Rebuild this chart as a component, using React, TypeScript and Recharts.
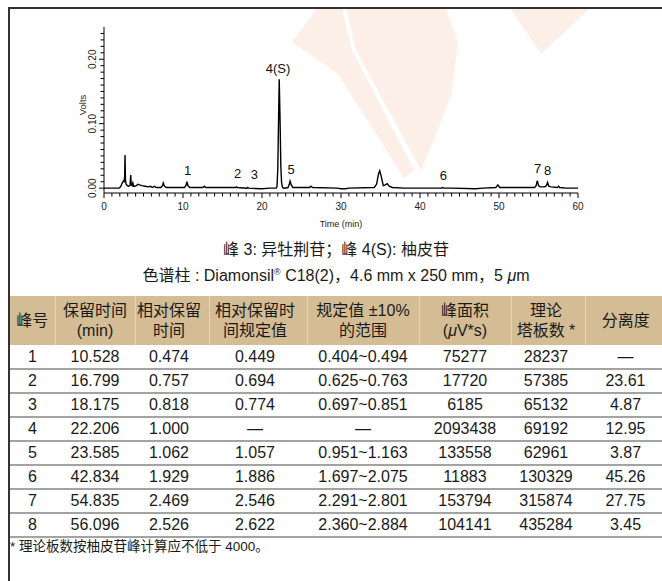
import { ComposedChart, Line, Scatter, XAxis, YAxis } from 'recharts'

// chromatogram trace: [time (min), volts]
const TRACE: [number, number][] = [
  [0, 0.0], [1.9, 0.0], [2.1, 0.002], [2.3, 0.008], [2.45, 0.011], [2.55, 0.01],
  [2.62, 0.02], [2.66, 0.0515], [2.72, 0.012], [2.8, 0.006], [2.95, 0.004], [3.1, 0.003],
  [3.3, 0.004], [3.38, 0.0205], [3.45, 0.006], [3.55, 0.004], [3.65, 0.008], [3.75, 0.003],
  [3.9, 0.003], [4.1, 0.004], [4.3, 0.006], [4.5, 0.005], [4.8, 0.004], [5.2, 0.003],
  [5.6, 0.002], [5.9, 0.003], [6.1, 0.001], [6.4, 0.003], [6.6, 0.001], [7.2, 0.001],
  [7.4, 0.004], [7.5, 0.008], [7.65, 0.003], [7.9, 0.001], [10.2, 0.001], [10.4, 0.005],
  [10.5, 0.01], [10.62, 0.004], [10.85, 0.001], [12.5, 0.001], [12.7, 0.003], [12.85, 0.001],
  [15.2, 0.001], [16.7, 0.001], [16.8, 0.002], [16.9, 0.001], [18.1, 0.0], [18.2, 0.001],
  [18.3, 0.0], [20.0, -0.001], [21.0, 0.0], [21.8, 0.0], [21.9, 0.003], [22.0, 0.03],
  [22.1, 0.11], [22.18, 0.169], [22.28, 0.11], [22.38, 0.035], [22.48, 0.008], [22.6, 0.001],
  [22.8, 0.0], [23.3, 0.001], [23.45, 0.006], [23.55, 0.011], [23.7, 0.005], [23.9, 0.001],
  [26.0, 0.001], [26.2, 0.003], [26.4, 0.001], [29.5, 0.0], [30.0, -0.001], [30.6, -0.001],
  [31.0, 0.0], [34.2, 0.001], [34.5, 0.006], [34.75, 0.022], [34.9, 0.027], [35.1, 0.018],
  [35.35, 0.004], [35.6, 0.005], [35.85, 0.007], [36.1, 0.003], [36.5, 0.001], [38.0, 0.0],
  [42.7, 0.0], [42.85, 0.001], [43.0, 0.0], [44.0, 0.0], [47.0, -0.001], [48.0, 0.0],
  [49.6, 0.001], [49.85, 0.005], [50.1, 0.001], [52.0, 0.001], [54.5, 0.001], [54.7, 0.004],
  [54.85, 0.0116], [55.0, 0.004], [55.2, 0.002], [55.8, 0.002], [56.0, 0.004], [56.15, 0.009],
  [56.3, 0.003], [56.6, 0.002], [57.4, 0.001], [57.55, 0.003], [57.7, 0.001], [58.5, 0.0],
  [60, 0.0],
]

// peak numbers, placed where they sit in the picture
const PEAK_LABELS = [
  { t: 22.03, v: 0.185, text: '4(S)' },
  { t: 10.58, v: 0.0267, text: '1' },
  { t: 16.9, v: 0.022, text: '2' },
  { t: 19.03, v: 0.0205, text: '3' },
  { t: 23.67, v: 0.0282, text: '5' },
  { t: 42.95, v: 0.019, text: '6' },
  { t: 54.9, v: 0.0298, text: '7' },
  { t: 56.16, v: 0.0267, text: '8' },
]

const X_TICKS = Array.from({ length: 61 }, (_, i) => i)
const Y_TICKS = Array.from({ length: 25 }, (_, i) => i / 100)

const HEADERS: React.ReactNode[][] = [
  ['峰号'],
  ['保留时间', '(min)'],
  ['相对保留', '时间'],
  ['相对保留时', '间规定值'],
  ['规定值 ±10%', '的范围'],
  ['峰面积', <>(<i>μ</i>V*s)</>],
  ['理论', '塔板数 *'],
  ['分离度'],
]

const ROWS = [
  ['1', '10.528', '0.474', '0.449', '0.404~0.494', '75277', '28237', '—'],
  ['2', '16.799', '0.757', '0.694', '0.625~0.763', '17720', '57385', '23.61'],
  ['3', '18.175', '0.818', '0.774', '0.697~0.851', '6185', '65132', '4.87'],
  ['4', '22.206', '1.000', '—', '—', '2093438', '69192', '12.95'],
  ['5', '23.585', '1.062', '1.057', '0.951~1.163', '133558', '62961', '3.87'],
  ['6', '42.834', '1.929', '1.886', '1.697~2.075', '11883', '130329', '45.26'],
  ['7', '54.835', '2.469', '2.546', '2.291~2.801', '153794', '315874', '27.75'],
  ['8', '56.096', '2.526', '2.622', '2.360~2.884', '104141', '435284', '3.45'],
]

const COL_WIDTHS = [45, 80, 74, 98, 112, 92, 74, 77]
const COL_PAD: [number, number][] = [[0, 0], [0, 0], [0, 6], [0, 6], [0, 0], [0, 0], [0, 4], [4, 0]]

const FONT = '"Liberation Sans", Arial, "Noto Sans CJK SC", sans-serif'
const WATERMARK = '#fcefe7'

const XTick = (props: any) => {
  const { x, y, payload } = props
  const major = payload.value % 10 === 0
  return (
    <g>
      <line x1={x} x2={x} y1={y} y2={y + (major ? 5 : 3.5)} stroke="#000" strokeWidth={1} />
      {major && (
        <text x={x} y={y + 17} textAnchor="middle" fontSize={10} fill="#222" fontFamily={FONT}>
          {payload.value}
        </text>
      )}
    </g>
  )
}

const YTick = (props: any) => {
  const { x, y, payload } = props
  const v = payload.value
  const major = Math.abs(v * 10 - Math.round(v * 10)) < 1e-6
  return (
    <g>
      <line x1={x} x2={x - (major ? 5 : 3.5)} y1={y} y2={y} stroke="#000" strokeWidth={1} />
      {major && (
        <text
          transform={`translate(${x - 8},${y}) rotate(-90)`}
          textAnchor="middle"
          fontSize={10}
          fill="#222"
          fontFamily={FONT}
        >
          {v.toFixed(2)}
        </text>
      )}
    </g>
  )
}

const PeakText = (props: any) => {
  const { cx, cy, payload } = props
  return (
    <text x={cx} y={cy + 4.5} textAnchor="middle" fontSize={13} fill="#111" fontFamily={FONT}>
      {payload.text}
    </text>
  )
}

export default function App() {
  const data = TRACE.map(([t, v]) => ({ t, v }))

  return (
    <div
      style={{
        position: 'relative',
        width: 662,
        height: 581,
        background: '#fff',
        overflow: 'hidden',
        fontFamily: FONT,
        color: '#1a1a1a',
      }}
    >
      <style>{'body{margin:0}'}</style>

      {/* faint logo watermark behind the chart */}
      <svg width={662} height={300} style={{ position: 'absolute', left: 0, top: 0 }}>
        <polygon points="292,42 318,8 342,8 352,50 414,170 404,178 338,74" fill={WATERMARK} />
        <polygon points="346,8 446,8 458,42 452,92 434,140 421,170 356,50" fill={WATERMARK} />
        <polygon points="510,8 590,8 541,54" fill={WATERMARK} />
      </svg>

      {/* frame */}
      <div style={{ position: 'absolute', left: 8, top: 7, width: 654, height: 2, background: '#333' }} />
      <div style={{ position: 'absolute', left: 8, top: 7, width: 2, height: 574, background: '#333' }} />

      <div style={{ position: 'absolute', left: 0, top: 0 }}>
        <ComposedChart
          width={662}
          height={240}
          data={data}
          margin={{ top: 27, right: 84, bottom: 17, left: 64 }}
        >
          <XAxis
            dataKey="t"
            type="number"
            domain={[0, 60]}
            ticks={X_TICKS}
            interval={0}
            tickSize={0}
            tickMargin={0}
            tickLine={false}
            tick={<XTick />}
            height={30}
            axisLine={{ stroke: '#000' }}
            allowDataOverflow
          />
          <YAxis
            type="number"
            domain={[-0.0075, 0.25]}
            ticks={Y_TICKS}
            interval={0}
            tickSize={0}
            tickMargin={0}
            tickLine={false}
            tick={<YTick />}
            width={40}
            axisLine={{ stroke: '#000' }}
            allowDataOverflow
          />
          <Line
            dataKey="v"
            type="linear"
            stroke="#000"
            strokeWidth={1.4}
            dot={false}
            isAnimationActive={false}
          />
          <Scatter
            data={PEAK_LABELS}
            dataKey="v"
            shape={<PeakText />}
            isAnimationActive={false}
          />
        </ComposedChart>
      </div>

      {/* axis titles */}
      <div
        style={{
          position: 'absolute',
          left: 83 - 30,
          top: 105 - 6,
          width: 60,
          textAlign: 'center',
          fontSize: 9.5,
          lineHeight: '12px',
          transform: 'rotate(-90deg)',
          color: '#222',
        }}
      >
        Volts
      </div>
      <div
        style={{
          position: 'absolute',
          left: 341 - 50,
          top: 218,
          width: 100,
          textAlign: 'center',
          fontSize: 9,
          lineHeight: '12px',
          color: '#222',
        }}
      >
        Time (min)
      </div>

      {/* captions */}
      <div
        style={{
          position: 'absolute',
          left: 10,
          top: 238,
          width: 652,
          textAlign: 'center',
          fontSize: 16,
          lineHeight: '23px',
        }}
      >
        <div>峰 3: 异牡荆苷；峰 4(S): 柚皮苷</div>
        <div>
          色谱柱 : Diamonsil<sup style={{ fontSize: 9 }}>®</sup> C18(2)，4.6 mm x 250 mm，5 <i>μ</i>m
        </div>
      </div>

      {/* results table */}
      <table
        style={{
          position: 'absolute',
          left: 10,
          top: 296,
          width: 652,
          borderCollapse: 'collapse',
          tableLayout: 'fixed',
          fontSize: 16,
        }}
      >
        <colgroup>
          {COL_WIDTHS.map((w, i) => (
            <col key={i} style={{ width: w }} />
          ))}
        </colgroup>
        <thead>
          <tr style={{ background: '#d4bc94', height: 49 }}>
            {HEADERS.map((lines, i) => (
              <th
                key={i}
                style={{
                  fontWeight: 400,
                  padding: 0,
                  paddingLeft: COL_PAD[i][0],
                  paddingRight: COL_PAD[i][1],
                  lineHeight: '20px',
                  borderLeft: i === 0 ? 'none' : '1px solid #e3d5bd',
                  whiteSpace: 'nowrap',
                }}
              >
                {lines.map((l, j) => (
                  <div key={j}>{l}</div>
                ))}
              </th>
            ))}
          </tr>
        </thead>
        <tbody>
          {ROWS.map((row, r) => (
            <tr key={r} style={{ height: 24 }}>
              {row.map((cell, c) => (
                <td
                  key={c}
                  style={{
                    textAlign: 'center',
                    padding: 0,
                    paddingLeft: COL_PAD[c][0],
                    paddingRight: COL_PAD[c][1],
                    lineHeight: '22px',
                    borderBottom: '2px solid #a3a3a3',
                    whiteSpace: 'nowrap',
                  }}
                >
                  {cell}
                </td>
              ))}
            </tr>
          ))}
        </tbody>
      </table>

      <div style={{ position: 'absolute', left: 10, top: 538, fontSize: 13.5, lineHeight: '18px' }}>
        * 理论板数按柚皮苷峰计算应不低于 4000。
      </div>
    </div>
  )
}
